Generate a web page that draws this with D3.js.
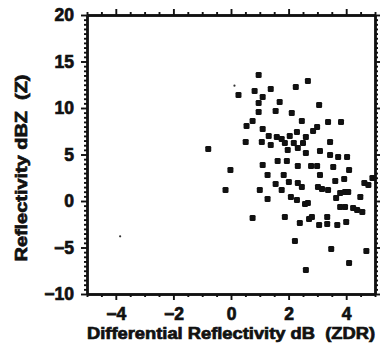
<!DOCTYPE html>
<html><head><meta charset="utf-8">
<script src="https://cdn.jsdelivr.net/npm/d3@7"></script>
<style>
html,body{margin:0;padding:0;background:#fff;}
svg text{font-family:"Liberation Sans",Arial,Helvetica,sans-serif !important;font-weight:bold !important;fill:#111;stroke:#111;stroke-width:0.7px;}
</style></head>
<body><svg id="chart" width="380" height="353"></svg>
<script>
// ZDR (dB) values
const zdr = [0.96,2.67,2.25,0.82,1.38,0.26,1.10,0.96,1.69,3.06,0.96,1.55,2.11,0.75,2.46,3.37,3.82,0.54,1.10,2.99,2.85,2.29,1.31,1.59,1.76,2.04,2.60,0.51,1.07,1.38,1.87,2.18,2.50,3.44,-0.79,1.97,2.32,2.60,3.09,3.44,3.72,4.03,1.10,1.62,1.94,2.32,2.78,2.99,3.55,-0.02,4.10,1.27,1.83,3.09,4.91,2.01,2.32,1.55,3.62,3.93,4.63,4.77,2.46,3.02,3.16,1.76,1.00,-0.19,3.37,3.79,3.96,4.07,2.08,2.29,1.27,2.57,2.67,3.65,4.49,3.79,3.96,4.24,4.38,4.56,0.75,1.87,2.71,2.81,3.34,2.39,3.06,3.34,3.69,4.00,2.22,3.48,4.70,4.10,2.60];
// Z (dBZ) values
const dbz = [13.55,12.90,12.26,11.83,12.04,11.40,11.18,10.54,10.65,10.32,9.57,9.68,9.46,8.60,8.60,8.49,8.49,8.06,7.74,7.96,7.53,7.42,6.99,6.88,6.67,6.99,6.88,6.34,6.34,6.02,6.24,6.24,6.24,6.34,5.59,5.48,5.70,5.16,5.38,4.95,4.73,4.73,3.87,4.30,4.30,3.76,3.76,3.76,3.66,3.33,3.33,2.80,2.80,2.80,2.47,2.04,1.94,1.83,2.15,2.37,1.94,1.72,1.51,1.51,1.29,1.18,1.18,1.18,1.18,0.86,0.97,0.97,0.43,0.11,0.22,-0.32,-0.22,0.32,0.43,-0.65,-0.65,-0.75,-0.97,-1.18,-1.83,-1.72,-1.94,-1.72,-1.72,-2.37,-2.58,-2.47,-2.58,-2.26,-4.30,-5.16,-5.38,-6.67,-7.42];
// faint small specks
const speckZdr = [0.12,-3.85];
const speckDbz = [12.4,-3.8];
const xTicks = [-4,-2,0,2,4];
const yTicks = [-10,-5,0,5,10,15,20];
const xDomain = [-5,5];
const yDomain = [-10,20];
const xTitle = "Differential Reflectivity dB  (ZDR)";
const yTitle = "Reflectivity dBZ  (Z)";

const L=87,R=375,T=15,B=294;
const svg = d3.select("#chart");
const x = d3.scaleLinear().domain(xDomain).range([L,R]);
const y = d3.scaleLinear().domain(yDomain).range([B,T]);
const xMinor = d3.range(-5,5.01,0.5).filter(v=>!xTicks.includes(v));
const yMinor = d3.range(-10,20.01,0.5).filter(v=>!yTicks.includes(v) && v%5!==0);

function styleAxis(g){
  g.select(".domain").attr("stroke","#111").attr("stroke-width",2.4);
  g.selectAll(".tick line").attr("stroke","#111").attr("stroke-width",1.9);
  g.selectAll(".tick text").style("font-size","17.5px");
}
// bottom
svg.append("g").attr("transform",`translate(0,${B})`)
  .call(d3.axisBottom(x).tickValues(xMinor).tickSize(3).tickSizeOuter(0).tickFormat(""))
  .call(styleAxis);
svg.append("g").attr("transform",`translate(0,${B})`)
  .call(d3.axisBottom(x).tickValues(xTicks).tickSize(6).tickSizeOuter(0).tickPadding(8).tickFormat(d3.format("d")))
  .call(styleAxis);
// top
svg.append("g").attr("transform",`translate(0,${T})`)
  .call(d3.axisTop(x).tickValues(xMinor).tickSize(3).tickSizeOuter(0).tickFormat(""))
  .call(styleAxis);
svg.append("g").attr("transform",`translate(0,${T})`)
  .call(d3.axisTop(x).tickValues(xTicks).tickSize(6).tickSizeOuter(0).tickFormat(""))
  .call(styleAxis);
// left
svg.append("g").attr("transform",`translate(${L},0)`)
  .call(d3.axisLeft(y).tickValues(yMinor).tickSize(3).tickSizeOuter(0).tickFormat(""))
  .call(styleAxis);
svg.append("g").attr("transform",`translate(${L},0)`)
  .call(d3.axisLeft(y).tickValues(yTicks).tickSize(6).tickSizeOuter(0).tickPadding(7).tickFormat(d3.format("d")))
  .call(styleAxis);
// right
svg.append("g").attr("transform",`translate(${R},0)`)
  .call(d3.axisRight(y).tickValues(yMinor).tickSize(3).tickSizeOuter(0).tickFormat(""))
  .call(styleAxis);
svg.append("g").attr("transform",`translate(${R},0)`)
  .call(d3.axisRight(y).tickValues(yTicks).tickSize(6).tickSizeOuter(0).tickFormat(""))
  .call(styleAxis);

// points
const pts = zdr.map((v,i)=>({x:v,y:dbz[i]}));
const s = 6;
svg.append("g").selectAll("rect").data(pts).join("rect")
  .attr("x",d=>x(d.x)-s/2).attr("y",d=>y(d.y)-s/2)
  .attr("width",s).attr("height",s).attr("rx",1.3)
  .attr("fill","#111");
const specks = speckZdr.map((v,i)=>({x:v,y:speckDbz[i]}));
svg.append("g").selectAll("circle").data(specks).join("circle")
  .attr("cx",d=>x(d.x)).attr("cy",d=>y(d.y)).attr("r",1.1).attr("fill","#333");

// titles
svg.append("text").attr("x",(L+R)/2).attr("y",339).attr("text-anchor","middle")
  .style("font-size","16px").style("white-space","pre")
  .attr("textLength",288).attr("lengthAdjust","spacingAndGlyphs").text(xTitle);
svg.append("text").attr("transform","translate(27,168) rotate(-90)").attr("text-anchor","middle")
  .style("font-size","16px").style("white-space","pre")
  .attr("textLength",187).attr("lengthAdjust","spacingAndGlyphs").text(yTitle);
</script></body></html>
